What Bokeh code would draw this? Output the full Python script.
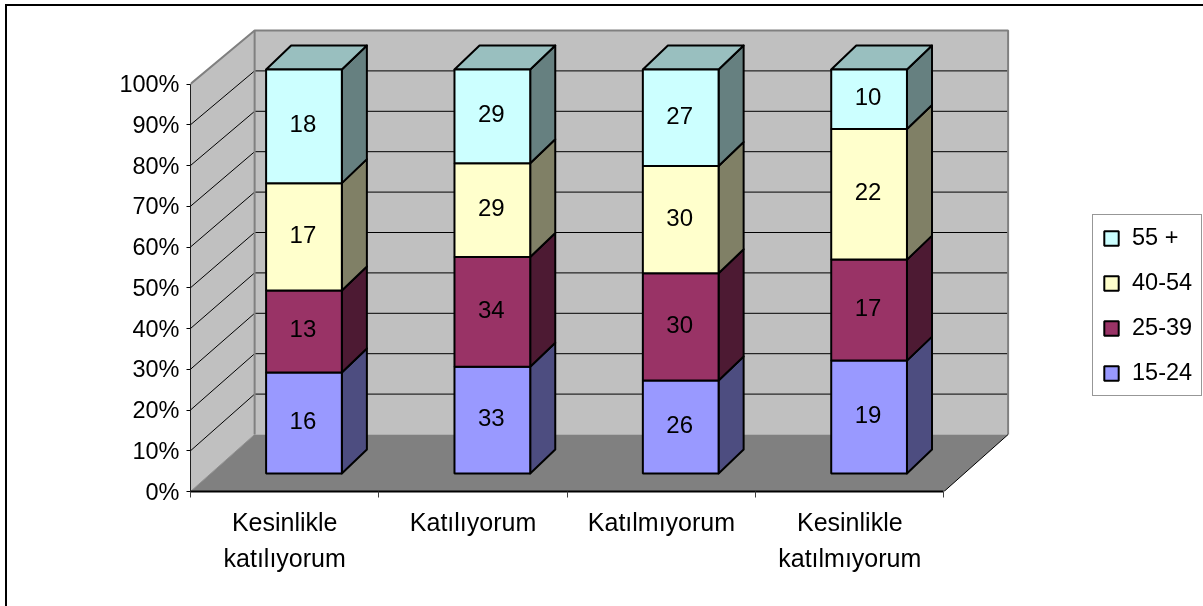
from bokeh.plotting import figure
from bokeh.models import Range1d, FixedTicker, Legend, LegendItem, LinearAxis
from bokeh.core.properties import value
from bokeh.embed import file_html
from bokeh.resources import INLINE

categories = ["Kesinlikle\nkatılıyorum", "Katılıyorum", "Katılmıyorum", "Kesinlikle\nkatılmıyorum"]
series_names = ["15-24", "25-39", "40-54", "55 +"]
v_15_24 = [16, 33, 26, 19]
v_25_39 = [13, 34, 30, 17]
v_40_54 = [17, 29, 30, 22]
v_55 = [18, 29, 27, 10]
series = [v_15_24, v_25_39, v_40_54, v_55]
pct_ticks = [0, 10, 20, 30, 40, 50, 60, 70, 80, 90, 100]
pct_labels = ["0%", "10%", "20%", "30%", "40%", "50%", "60%", "70%", "80%", "90%", "100%"]

front_col = ["#9999FF", "#993366", "#FFFFCC", "#CCFFFF"]
side_col = ["#4D4D80", "#4D1A33", "#808066", "#668080"]
top_col = "#99BFBF"
FONT = "Liberation Sans"

# pixel layout (page coordinates)
W, H = 1203, 606
OX, OY = 7, 6            # where the canvas starts, inside the chart's border
FL, FR, FT, FB = 191, W, OY, 491
CAT_PX = 188.0
PCT_PX = 4.075
WALL = 404 / 407.5        # depth foreshortening of the percent scale
WX = 64 / CAT_PX          # wall depth in category units
WY = 57 / PCT_PX          # wall depth in percent units
BFX = 20 / CAT_PX         # bar front offset
BFY = 18 / PCT_PX
BDX = 25 / CAT_PX         # bar depth
BDY = 24 / PCT_PX
BAR_START = 0.295
BAR_W = 0.402

p = figure(width=W - OX, height=H - OY, output_backend="svg", toolbar_location=None,
           x_range=Range1d(0, (FR - FL + 1) / CAT_PX),
           y_range=Range1d(0, (FB - FT) / PCT_PX),
           min_border_left=FL - OX - 1, min_border_right=0, min_border_top=0, min_border_bottom=H - FB + 2,
           x_axis_type=None, y_axis_type=None, background_fill_color="white", border_fill_color="white",
           outline_line_color=None)
p.styles = {"position": "fixed", "left": "5px", "top": "4px",
            "border-left": "2px solid black", "border-top": "2px solid black",
            "box-sizing": "content-box"}
p.xgrid.visible = False
p.ygrid.visible = False

n = len(categories)
# walls and floor
p.patch([0, WX, WX, 0], [0, WY, 100 * WALL + WY, 100], fill_color="#C0C0C0", line_color=None)
p.patch([WX, n + WX, n + WX, WX], [WY, WY, 100 * WALL + WY, 100 * WALL + WY], fill_color="#C0C0C0", line_color=None)
p.patch([0, n, n + WX, WX], [0, 0, WY, WY], fill_color="#808080", line_color=None)
# grid lines on both walls
gt = [t for t in pct_ticks if 0 < t < 100]
p.multi_line([[0, WX, n + WX] for t in gt], [[t, t * WALL + WY, t * WALL + WY] for t in gt],
             line_color="black", line_width=1)
# wall edges
p.line([0, WX, n + WX, n + WX], [100, 100 * WALL + WY, 100 * WALL + WY, WY], line_color="#808080", line_width=2)
p.line([WX, WX], [WY, 100 * WALL + WY], line_color="#808080", line_width=2)
p.line([0, WX], [0, WY], line_color="#909090", line_width=1)
p.line([n, n + WX], [0, WY], line_color="black", line_width=1)

# bars
totals = [sum(s[i] for s in series) for i in range(n)]
items = []
lx, ly, lt = [], [], []
for k, s in enumerate(series):
    base = [sum(series[j][i] for j in range(k)) * 100 / totals[i] for i in range(n)]
    tops = [b + s[i] * 100 / totals[i] for i, b in enumerate(base)]
    left = [i + BAR_START + BFX for i in range(n)]
    right = [l + BAR_W for l in left]
    y0 = [b * WALL + BFY for b in base]
    y1 = [t * WALL + BFY for t in tops]
    p.patches([[r, r + BDX, r + BDX, r] for r in right],
              [[a, a + BDY, b + BDY, b] for a, b in zip(y0, y1)],
              fill_color=side_col[k], line_color="black", line_width=2, line_join="round")
    if k == len(series) - 1:
        p.patches([[l, l + BDX, r + BDX, r] for l, r in zip(left, right)],
                  [[b, b + BDY, b + BDY, b] for b in y1],
                  fill_color=top_col, line_color="black", line_width=2, line_join="round")
    q = p.quad(left=left, right=right, bottom=y0, top=y1,
               fill_color=front_col[k], line_color="black", line_width=2)
    items.append(LegendItem(label=series_names[k], renderers=[q]))
    lx += [(l + r) / 2 for l, r in zip(left, right)]
    ly += [(a + b) / 2 for a, b in zip(y0, y1)]
    lt += [str(x) for x in s]

p.text(lx, ly, text=lt, text_align="center", text_baseline="middle", text_color="black",
       text_font=value(FONT), text_font_size="24px", x_offset=-1, y_offset=-2.5)

# axes
ya = LinearAxis(ticker=FixedTicker(ticks=pct_ticks), bounds=(0, 100),
                major_label_overrides={t: l for t, l in zip(pct_ticks, pct_labels)},
                major_label_text_font=FONT, major_label_text_font_size="23.5px", major_label_text_color="black",
                major_tick_in=0, major_tick_out=4, major_tick_line_color="black", major_tick_line_width=1,
                minor_tick_line_color=None, axis_line_color="#202020", axis_line_width=1,
                major_label_standoff=7)
p.add_layout(ya, "left")
xa = LinearAxis(ticker=FixedTicker(ticks=[i + 0.5 for i in range(n)], minor_ticks=list(range(n + 1))),
                bounds=(0, n),
                major_label_overrides={i + 0.5: c for i, c in enumerate(categories)},
                major_label_text_font=FONT, major_label_text_font_size="25px", major_label_text_color="black",
                major_label_text_line_height=1.3,
                major_tick_line_color=None, major_tick_in=0, major_tick_out=0,
                minor_tick_in=0, minor_tick_out=6, minor_tick_line_color="#404040", minor_tick_line_width=1,
                axis_line_color="black", axis_line_width=2, major_label_standoff=10)
p.add_layout(xa, "below")

# legend
leg = Legend(items=items[::-1], location=(1093 - FL, FB - 396), orientation="vertical", margin=0, padding=9,
             spacing=18, glyph_width=18, glyph_height=18, label_standoff=12, label_height=27,
             label_text_font=FONT, label_text_font_size="23.5px", label_text_color="black",
             border_line_color="#303030", border_line_width=1, background_fill_color="white", background_fill_alpha=1)
p.add_layout(leg, "center")

open("out.html", "w").write(file_html(p, INLINE))
